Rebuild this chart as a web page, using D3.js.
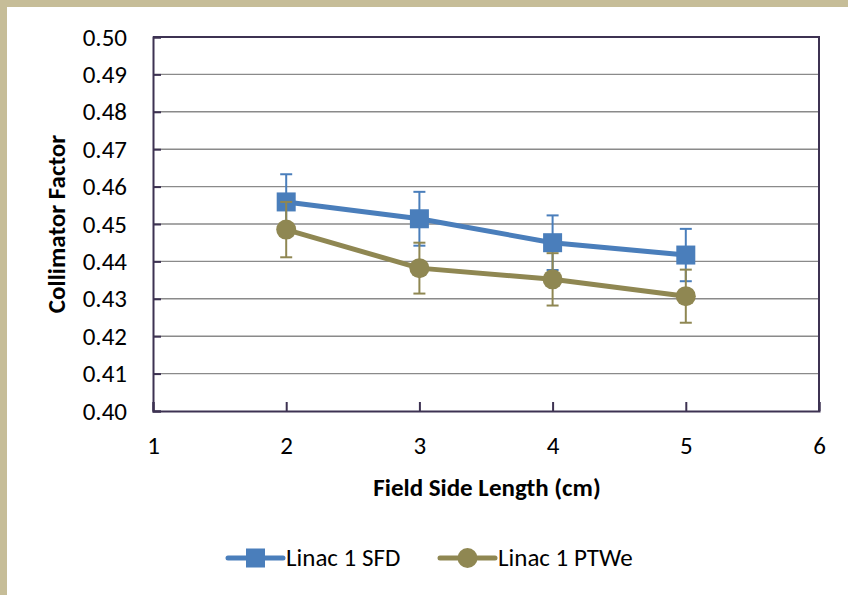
<!DOCTYPE html>
<html lang="en">
<head>
    <meta charset="UTF-8">
    <title>Collimator Factor</title>
    <script src="https://cdn.jsdelivr.net/npm/d3@7"></script>
    <style>
      body { margin: 0; background: #fff; }
      svg text { font-family: Carlito, 'Open Sans', sans-serif; fill: #000; }
    </style>
</head>
<body>
    <svg id="chart"></svg>
    <script>

    const fieldSizes = [2, 3, 4, 5];
    const sfdValues = [0.4559, 0.4514, 0.4450, 0.4417];
    const sfdErrors = [0.0074, 0.0072, 0.0073, 0.0070];
    const ptweValues = [0.4485, 0.4382, 0.4352, 0.4307];
    const ptweErrors = [0.0074, 0.0068, 0.0070, 0.0071];
    const yTicks = [0.40, 0.41, 0.42, 0.43, 0.44, 0.45, 0.46, 0.47, 0.48, 0.49, 0.50];
    const xTicks = [1, 2, 3, 4, 5, 6];

    const series = [
        { name: 'Linac 1 SFD', values: sfdValues, errors: sfdErrors, color: '#4a7ebb', marker: 'square' },
        { name: 'Linac 1 PTWe', values: ptweValues, errors: ptweErrors, color: '#8f8752', marker: 'circle' }
    ];

    const W = 848, H = 595;
    const plot = { left: 153, right: 819, top: 37, bottom: 411 };
    const axisColor = '#3d3252';
    const fontSize = '25px';

    const svg = d3.select('#chart').attr('width', W).attr('height', H);
    svg.append('rect').attr('width', W).attr('height', H).attr('fill', '#fff');
    // beige frame edges
    svg.append('rect').attr('width', W).attr('height', 7).attr('fill', '#c6bd98');
    svg.append('rect').attr('width', 7).attr('height', H).attr('fill', '#c6bd98');

    const x = d3.scaleLinear().domain([1, 6]).range([plot.left, plot.right]);
    const y = d3.scaleLinear().domain([0.40, 0.50]).range([plot.bottom, plot.top]);

    // gridlines
    svg.append('g').selectAll('line')
        .data(yTicks.slice(1, -1))
        .enter().append('line')
        .attr('x1', plot.left).attr('x2', plot.right)
        .attr('y1', d => y(d)).attr('y2', d => y(d))
        .attr('stroke', '#8a8a8a').attr('stroke-width', 1.4);

    // plot border (top/right)
    svg.append('path')
        .attr('d', `M${plot.left},${plot.top}H${plot.right}V${plot.bottom}`)
        .attr('fill', 'none').attr('stroke', axisColor).attr('stroke-width', 2);

    const yAxis = svg.append('g')
        .attr('transform', `translate(${plot.left},0)`)
        .call(d3.axisLeft(y).tickValues(yTicks).tickFormat(d3.format('.2f')).tickSize(-8).tickPadding(26));
    const xAxis = svg.append('g')
        .attr('transform', `translate(0,${plot.bottom})`)
        .call(d3.axisBottom(x).tickValues(xTicks).tickFormat(d3.format('d')).tickSize(-9).tickPadding(25));

    [yAxis, xAxis].forEach(a => {
        a.select('.domain').attr('stroke', axisColor).attr('stroke-width', 2);
        a.selectAll('.tick line').attr('stroke', axisColor).attr('stroke-width', 2);
        a.selectAll('.tick text').style('font-size', fontSize).attr('fill', '#000');
    });

    // axis titles
    svg.append('text')
        .attr('x', 487).attr('y', 496)
        .attr('text-anchor', 'middle')
        .style('font-size', fontSize).style('font-weight', 'bold')
        .text('Field Side Length (cm)');
    svg.append('text')
        .attr('transform', `translate(65,${(plot.top + plot.bottom) / 2}) rotate(-90)`)
        .attr('text-anchor', 'middle')
        .style('font-size', fontSize).style('font-weight', 'bold')
        .text('Collimator Factor');

    const line = d3.line().x(d => x(d[0])).y(d => y(d[1]));

    function drawMarker(g, cx, cy, s) {
        if (s.marker === 'square') {
            g.append('rect').attr('x', cx - 9.5).attr('y', cy - 9.5)
                .attr('width', 19).attr('height', 19).attr('fill', s.color);
        } else {
            g.append('circle').attr('cx', cx).attr('cy', cy).attr('r', 10).attr('fill', s.color);
        }
    }

    series.forEach(s => {
        const g = svg.append('g');
        const pts = fieldSizes.map((f, i) => [f, s.values[i], s.errors[i]]);
        // error bars
        pts.forEach(p => {
            const cx = x(p[0]);
            const y1 = y(p[1] + p[2]), y2 = y(p[1] - p[2]);
            g.append('line').attr('x1', cx).attr('x2', cx).attr('y1', y1).attr('y2', y2)
                .attr('stroke', s.color).attr('stroke-width', 2);
            [y1, y2].forEach(yy => g.append('line')
                .attr('x1', cx - 6).attr('x2', cx + 6).attr('y1', yy).attr('y2', yy)
                .attr('stroke', s.color).attr('stroke-width', 2));
        });
        g.append('path').datum(pts).attr('d', line)
            .attr('fill', 'none').attr('stroke', s.color).attr('stroke-width', 5)
            .attr('stroke-linejoin', 'round');
        pts.forEach(p => drawMarker(g, x(p[0]), y(p[1]), s));
    });

    // legend
    const legendItems = [
        { s: series[0], x0: 228 },
        { s: series[1], x0: 440 }
    ];
    const ly = 558;
    legendItems.forEach(item => {
        const g = svg.append('g');
        g.append('line').attr('x1', item.x0).attr('x2', item.x0 + 55)
            .attr('y1', ly).attr('y2', ly)
            .attr('stroke', item.s.color).attr('stroke-width', 5).attr('stroke-linecap', 'round');
        drawMarker(g, item.x0 + 27.5, ly, item.s);
        g.append('text').attr('x', item.x0 + 58).attr('y', ly + 8)
            .style('font-size', fontSize).text(item.s.name);
    });

    </script>
</body>
</html>
